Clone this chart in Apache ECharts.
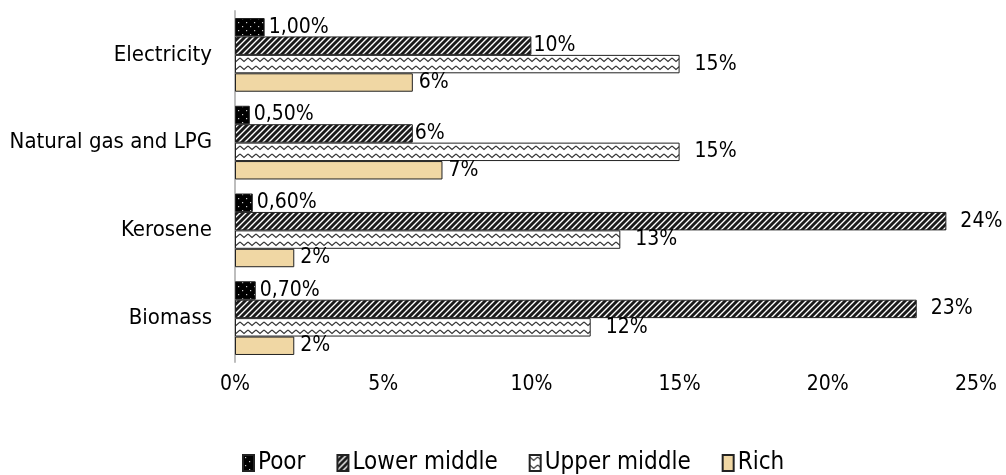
<!DOCTYPE html>
<html>
<head>
<meta charset="utf-8">
<script src="https://cdn.jsdelivr.net/npm/echarts@6/dist/echarts.min.js"></script>
<style>
html,body{margin:0;padding:0;background:#fff;}
#chart{width:1006px;height:475px;}
</style>
</head>
<body>
<div id="chart"></div>
<script>
var categories = ['Electricity', 'Natural gas and LPG', 'Kerosene', 'Biomass'];
var seriesNames = ['Poor', 'Lower middle', 'Upper middle', 'Rich'];
var poor = [1.0, 0.5, 0.6, 0.7];
var lowerMiddle = [10, 6, 24, 23];
var upperMiddle = [15, 15, 13, 12];
var rich = [6, 7, 2, 2];
var xTicks = [0, 5, 10, 15, 20, 25];

// label gap (px) beside the lower-middle bars, per category
var lowerMiddleLabelGap = [2, 2, 14, 14];

var FONT = '"Liberation Sans Narrow", "DejaVu Sans Condensed", "Open Sans", sans-serif';

function makeCanvas(w, h, draw) {
  var c = document.createElement('canvas');
  c.width = w; c.height = h;
  draw(c.getContext('2d'), w, h);
  return c;
}
var poorPat = makeCanvas(8, 8, function (g, w, h) {
  g.fillStyle = '#000'; g.fillRect(0, 0, w, h);
  g.fillStyle = '#ccc';
  g.fillRect(2, 2, 1.2, 1.2);
  g.fillRect(6, 6, 1.2, 1.2);
});
var hatchPat = makeCanvas(6, 6, function (g, s) {
  g.fillStyle = '#fff'; g.fillRect(0, 0, s, s);
  g.strokeStyle = '#1a1a1a'; g.lineWidth = 2.9;
  g.beginPath();
  g.moveTo(-1, 1); g.lineTo(1, -1);
  g.moveTo(0, s); g.lineTo(s, 0);
  g.moveTo(s - 1, s + 1); g.lineTo(s + 1, s - 1);
  g.stroke();
});
var wavePat = makeCanvas(8, 8, function (g, w, h) {
  g.fillStyle = '#fff'; g.fillRect(0, 0, w, h);
  g.strokeStyle = '#333'; g.lineWidth = 1.1;
  g.beginPath();
  g.moveTo(0, 2); g.lineTo(4, 5.5); g.lineTo(8, 2);
  g.stroke();
});

var chart = echarts.init(document.getElementById('chart'));

function lbl(dist, fmt) {
  return {
    show: true, position: 'right', distance: dist,
    fontFamily: FONT, fontSize: 21, color: '#000',
    formatter: fmt
  };
}
var fmtPoor = function (p) { return p.value.toFixed(2).replace('.', ',') + '%'; };
var fmtInt = function (p) { return p.value + '%'; };

var border = { borderColor: '#222', borderWidth: 1 };

var lowerMiddleData = lowerMiddle.map(function (v, i) {
  return { value: v, label: { distance: lowerMiddleLabelGap[i] } };
});

chart.setOption({
  animation: false,
  grid: { left: 235, right: 30, top: 11, bottom: 113 },
  xAxis: {
    type: 'value', min: 0, max: 25, interval: 5,
    axisLine: { show: false }, axisTick: { show: false },
    splitLine: { show: false },
    axisLabel: {
      fontFamily: FONT, fontSize: 21, color: '#000', margin: 12,
      formatter: function (v) { return xTicks.indexOf(v) >= 0 ? v + '%' : ''; }
    }
  },
  yAxis: {
    type: 'category', data: categories, inverse: true,
    axisLine: { show: true, lineStyle: { color: '#bdbdbd', width: 2 } },
    axisTick: { show: false },
    axisLabel: { fontFamily: FONT, fontSize: 22, color: '#000', margin: 23 }
  },
  legend: {
    left: 237, top: 446, icon: 'rect', itemWidth: 11, itemHeight: 16, itemGap: 31,
    textStyle: { fontFamily: FONT, fontSize: 24, color: '#000', padding: [0, 0, 0, -1] },
    data: seriesNames
  },
  series: [
    { name: seriesNames[0], type: 'bar', data: poor, barGap: '0%', barCategoryGap: '16%',
      itemStyle: Object.assign({ color: { image: poorPat, repeat: 'repeat' } }, border),
      label: lbl(4, fmtPoor) },
    { name: seriesNames[1], type: 'bar', data: lowerMiddleData,
      itemStyle: Object.assign({ color: { image: hatchPat, repeat: 'repeat' } }, border),
      label: lbl(3, fmtInt) },
    { name: seriesNames[2], type: 'bar', data: upperMiddle,
      itemStyle: Object.assign({ color: { image: wavePat, repeat: 'repeat' } }, border),
      label: lbl(15, fmtInt) },
    { name: seriesNames[3], type: 'bar', data: rich,
      itemStyle: Object.assign({ color: '#F0D7A4' }, border),
      label: lbl(6, fmtInt) }
  ]
});
</script>
</body>
</html>
